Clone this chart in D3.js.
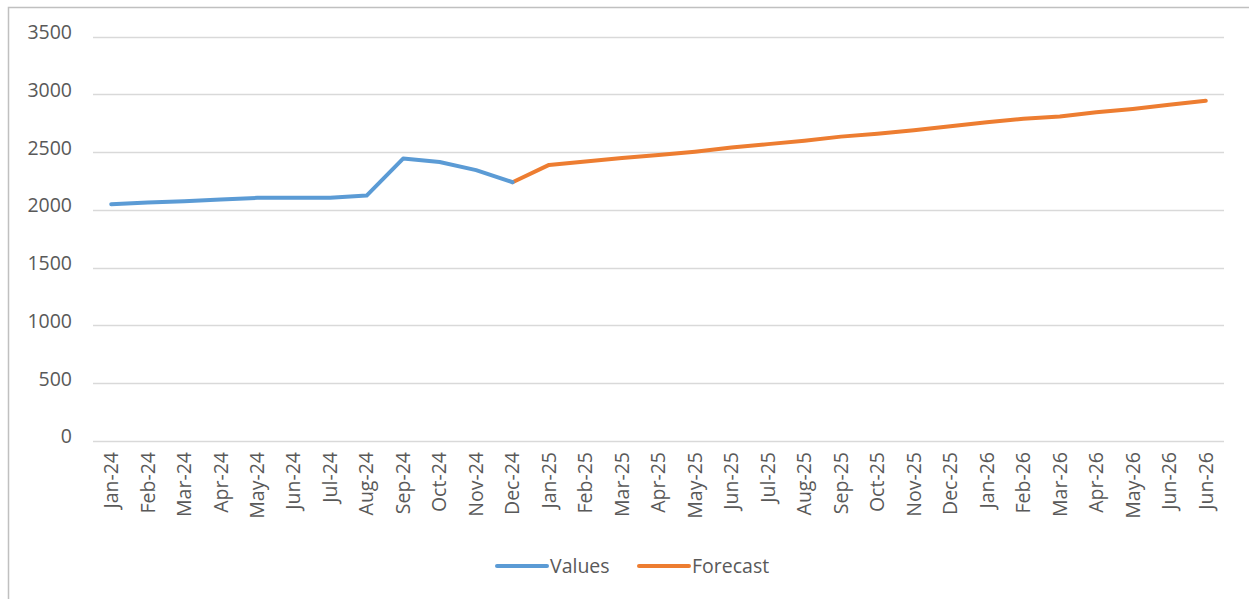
<!DOCTYPE html>
<html>
<head>
<meta charset="utf-8">
<script src="https://cdn.jsdelivr.net/npm/d3@7"></script>
<style>
  html, body { margin: 0; padding: 0; background: #fff; }
  svg { display: block; }
  text { font-family: "Open Sans", "Noto Sans", sans-serif; fill: #595959; }
</style>
</head>
<body>
<svg id="chart" width="1249" height="599"></svg>
<script>
const categories = [
  "Jan-24","Feb-24","Mar-24","Apr-24","May-24","Jun-24","Jul-24","Aug-24","Sep-24","Oct-24","Nov-24","Dec-24",
  "Jan-25","Feb-25","Mar-25","Apr-25","May-25","Jun-25","Jul-25","Aug-25","Sep-25","Oct-25","Nov-25","Dec-25",
  "Jan-26","Feb-26","Mar-26","Apr-26","May-26","Jun-26","Jun-26"
];
// Values series (actuals), Jan-24 .. Dec-24
const valuesSeries = [2050, 2065, 2075, 2090, 2105, 2105, 2105, 2125, 2445, 2415, 2345, 2240];
// Forecast series, Dec-24 .. last Jun-26
const forecastStartIndex = 11;
const forecastSeries = [2240, 2390, 2420, 2450, 2475, 2505, 2540, 2570, 2600, 2635, 2660, 2690, 2725,
  2760, 2790, 2810, 2845, 2875, 2910, 2945];
const yTicks = [0, 500, 1000, 1500, 2000, 2500, 3000, 3500];
const seriesNames = ["Values", "Forecast"];
const seriesColors = ["#5B9BD5", "#ED7D31"];

const FS = 19.5;
const svg = d3.select("#chart");

// chart frame
svg.append("path")
  .attr("d", "M8.5,600 L8.5,7.5 L1250,7.5")
  .attr("fill", "none").attr("stroke", "#c0c0c0").attr("stroke-width", 1.5);

const plot = { left: 93, right: 1224, top: 36.7, bottom: 441 };

const x = d3.scaleBand()
  .domain(d3.range(categories.length))
  .range([plot.left, plot.right]);
const y = d3.scaleLinear().domain([0, 3500]).range([plot.bottom, plot.top]);

// gridlines
svg.append("g")
  .selectAll("line").data(yTicks).join("line")
  .attr("x1", plot.left).attr("x2", plot.right)
  .attr("y1", d => Math.round(y(d)) + 0.5).attr("y2", d => Math.round(y(d)) + 0.5)
  .attr("stroke", "#d9d9d9").attr("stroke-width", 1.5);

// y axis labels
const yAxis = d3.axisLeft(y).tickValues(yTicks).tickFormat(d3.format("d")).tickSize(0).tickPadding(0);
const yg = svg.append("g").attr("transform", `translate(72,0)`).call(yAxis);
yg.select(".domain").remove();
yg.selectAll("text")
  .attr("font-size", FS).attr("font-family", "Open Sans, sans-serif")
  .attr("fill", "#595959").attr("dy", "0.1em");

// x axis labels
const xAxis = d3.axisBottom(x).tickFormat(i => categories[i]).tickSize(0).tickPadding(0);
const xg = svg.append("g").attr("transform", `translate(0,${plot.bottom})`).call(xAxis);
xg.select(".domain").remove();
xg.selectAll("text")
  .attr("font-size", FS).attr("font-family", "Open Sans, sans-serif")
  .attr("fill", "#595959")
  .attr("text-anchor", "end")
  .attr("transform", "rotate(-90)")
  .attr("x", -11).attr("y", 0).attr("dy", "0.35em");

const line = d3.line().x(d => x(d.i) + x.bandwidth() / 2).y(d => y(d.v));

const vData = valuesSeries.map((v, i) => ({ i, v }));
const fData = forecastSeries.map((v, k) => ({ i: forecastStartIndex + k, v }));

svg.append("path").datum(fData).attr("d", line)
  .attr("fill", "none").attr("stroke", seriesColors[1]).attr("stroke-width", 4)
  .attr("stroke-linejoin", "round").attr("stroke-linecap", "round");
svg.append("path").datum(vData).attr("d", line)
  .attr("fill", "none").attr("stroke", seriesColors[0]).attr("stroke-width", 4)
  .attr("stroke-linejoin", "round").attr("stroke-linecap", "round");

// legend
const legendItems = [{ x: 495, name: seriesNames[0], color: seriesColors[0] },
                     { x: 637, name: seriesNames[1], color: seriesColors[1] }];
const lg = svg.append("g");
legendItems.forEach(it => {
  lg.append("line").attr("x1", it.x + 2).attr("x2", it.x + 52)
    .attr("y1", 566).attr("y2", 566)
    .attr("stroke", it.color).attr("stroke-width", 4).attr("stroke-linecap", "round");
  lg.append("text").attr("x", it.x + 55).attr("y", 566).attr("dy", "0.35em")
    .attr("font-size", FS).text(it.name);
});
</script>
</body>
</html>
